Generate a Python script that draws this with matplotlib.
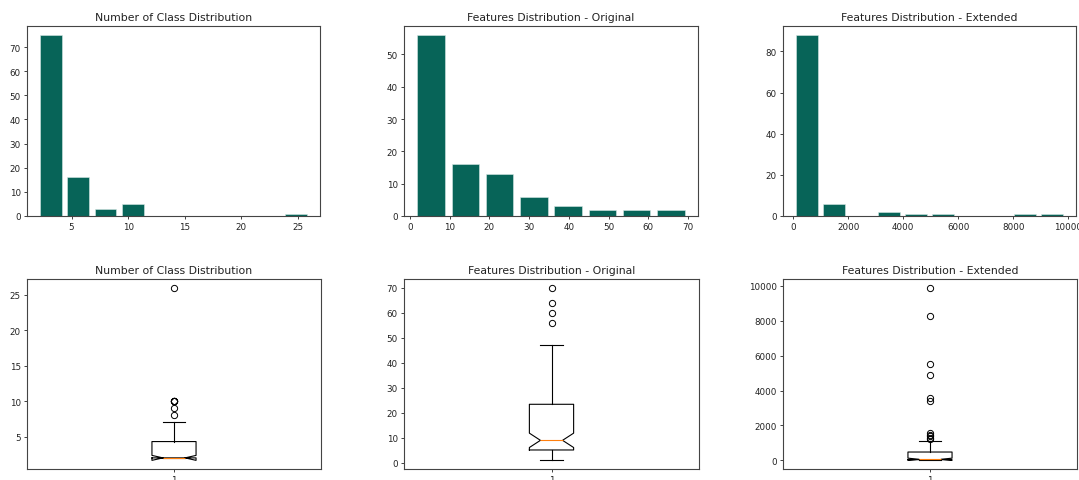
import matplotlib
matplotlib.use("Agg")
import matplotlib.pyplot as plt
import numpy as np

# histogram data: bin edges (range + bin count) and counts per bin
class_range = (2, 26)
class_counts = [75, 16, 3, 5, 0, 0, 0, 0, 0, 1]

orig_range = (1, 70)
orig_counts = [56, 16, 13, 6, 3, 2, 2, 2]

ext_range = (10, 9900)
ext_counts = [88, 6, 0, 2, 1, 1, 0, 0, 1, 1]

# boxplot summary stats (notched)
class_box = dict(med=2, q1=2, q3=4.3, whislo=2, whishi=7, cilo=1.65, cihi=2.35,
                 fliers=[8, 9, 10, 10, 10, 10, 10, 26])
orig_box = dict(med=9, q1=5.15, q3=23.4, whislo=1, whishi=47, cilo=6.13, cihi=11.87,
                fliers=[56, 60, 64, 70])
ext_box = dict(med=65, q1=40, q3=480, whislo=10, whishi=1110, cilo=2, cihi=128,
               fliers=[1200, 1300, 1400, 1480, 1580, 3380, 3600, 4900, 5500, 8300, 9900])

titles = ["Number of Class Distribution",
          "Features Distribution - Original",
          "Features Distribution - Extended"]

bar_color = "#076458"
W, H = 1079, 481

fig = plt.figure(figsize=(W / 100, H / 100), dpi=100)


def px_axes(x0, x1, y0, y1):
    return fig.add_axes([x0 / W, 1 - y1 / H, (x1 - x0) / W, (y1 - y0) / H])


def style(ax, title):
    ax.set_title(title, fontsize=7.8, pad=4, color="#222222")
    ax.tick_params(labelsize=6.3, length=2.5, width=0.6, pad=2, colors="#222222")
    for s in ax.spines.values():
        s.set_linewidth(0.8)
        s.set_color("#444444")


lefts = [(27, 320), (404, 698), (783, 1076)]

hist_sets = [(class_range, class_counts), (orig_range, orig_counts), (ext_range, ext_counts)]
for (x0, x1), (rng, counts), title in zip(lefts, hist_sets, titles):
    ax = px_axes(x0, x1, 27, 217)
    edges = np.linspace(rng[0], rng[1], len(counts) + 1)
    centers = (edges[:-1] + edges[1:]) / 2
    ax.hist(centers, bins=edges, weights=counts, rwidth=0.8,
            color=bar_color, edgecolor="#d8e8e5", linewidth=0.4)
    style(ax, title)

box_sets = [class_box, orig_box, ext_box]
for (x0, x1), stats, title in zip(lefts, box_sets, titles):
    ax = px_axes(x0, x1 + 1, 280, 470)
    ax.bxp([stats], shownotches=True, widths=0.15,
           boxprops=dict(linewidth=0.8), whiskerprops=dict(linewidth=0.8),
           capprops=dict(linewidth=0.8),
           medianprops=dict(color="#ff7f0e", linewidth=0.8),
           flierprops=dict(marker="o", markerfacecolor="none",
                           markeredgecolor="black", markersize=4.5, markeredgewidth=0.7))
    ax.set_xticks([1])
    ax.set_xticklabels(["1"])
    style(ax, title)

fig.savefig("out.png", dpi=100)
